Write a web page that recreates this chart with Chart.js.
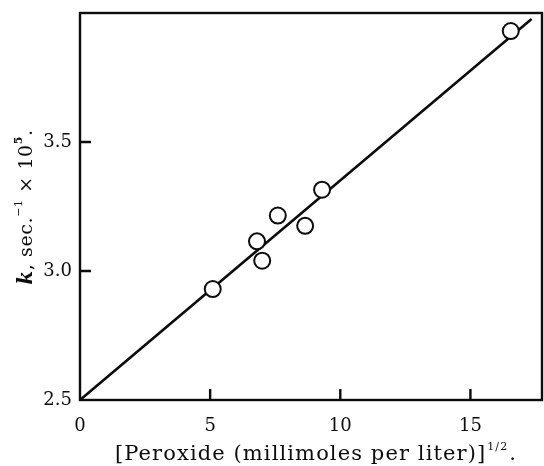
<!DOCTYPE html>
<html>
<head>
<meta charset="utf-8">
<script src="https://cdn.jsdelivr.net/npm/chart.js@4.4.1/dist/chart.umd.min.js"></script>
<style>
  html, body { margin: 0; padding: 0; background: #fff; }
  #wrap { width: 544px; height: 466px; position: relative; }
</style>
</head>
<body>
<div id="wrap"><canvas id="chart" width="544" height="466"></canvas></div>
<script>
const peroxideRoot = [5.1, 6.8, 7.0, 7.6, 8.65, 9.3, 16.55];
const rateK = [2.93, 3.115, 3.04, 3.215, 3.175, 3.315, 3.93];

// straight line drawn through the points
const fitX = [0, 17.35];
const fitY = [2.5, 3.977];

const xTicks = [0, 5, 10, 15];
const yTicks = [2.5, 3.0, 3.5];

const SERIF = "'DejaVu Serif', 'Liberation Serif', serif";
const INK = "#0c0c0c";

// frame, inward ticks and the two axis titles
const framePlugin = {
  id: "frame",
  afterDraw(chart) {
    const { ctx, chartArea: a, scales } = chart;
    ctx.save();
    ctx.strokeStyle = INK;
    ctx.lineWidth = 2.4;
    ctx.strokeRect(a.left, a.top, a.right - a.left, a.bottom - a.top);

    ctx.beginPath();
    xTicks.forEach((v) => {
      if (v === 0) return;
      const px = scales.x.getPixelForValue(v);
      ctx.moveTo(px, a.bottom);
      ctx.lineTo(px, a.bottom - 11);
    });
    yTicks.forEach((v) => {
      if (v === 2.5) return;
      const py = scales.y.getPixelForValue(v);
      ctx.moveTo(a.left, py);
      ctx.lineTo(a.left + 11, py);
    });
    ctx.stroke();

    ctx.fillStyle = INK;
    ctx.textBaseline = "alphabetic";

    // x title: [Peroxide (millimoles per liter)]^1/2.
    const big = "21px " + SERIF;
    const small = "11px " + SERIF;
    const main = "[Peroxide (millimoles per liter)]";
    ctx.letterSpacing = "1.1px";
    ctx.font = big;
    const wMain = ctx.measureText(main).width;
    ctx.font = small;
    const wSup = ctx.measureText("1/2").width;
    ctx.font = big;
    const wDot = ctx.measureText(".").width;
    let x = 316 - (wMain + wSup + wDot + 2) / 2;
    const y = 460;
    ctx.fillText(main, x, y);
    x += wMain + 1;
    ctx.font = small;
    ctx.fillText("1/2", x, y - 10);
    x += wSup + 1;
    ctx.font = big;
    ctx.fillText(".", x, y);

    // y title: k, sec.^-1 × 10^5.  (rotated)
    ctx.translate(32, 207);
    ctx.rotate(-Math.PI / 2);
    const parts = [
      { t: "k", f: "bold italic 20px " + SERIF, dy: 0 },
      { t: ", sec.", f: "19px " + SERIF, dy: 0 },
      { t: "\u22121", f: "11px " + SERIF, dy: -10 },
      { t: " \u00d7 10", f: "19px " + SERIF, dy: 0 },
      { t: "5", f: "bold 11px " + SERIF, dy: -10 },
      { t: ".", f: "19px " + SERIF, dy: 0 },
    ];
    ctx.letterSpacing = "0.6px";
    let total = 0;
    parts.forEach((p) => { ctx.font = p.f; total += ctx.measureText(p.t).width; });
    let cx = -total / 2;
    parts.forEach((p) => {
      ctx.font = p.f;
      ctx.fillText(p.t, cx, p.dy);
      cx += ctx.measureText(p.t).width;
    });
    // restore() does not reset this one, so do it by hand
    ctx.letterSpacing = "0px";
    ctx.restore();
  },
};

new Chart(document.getElementById("chart"), {
  type: "scatter",
  data: {
    datasets: [
      {
        type: "line",
        data: fitX.map((v, i) => ({ x: v, y: fitY[i] })),
        borderColor: INK,
        borderWidth: 2.6,
        pointRadius: 0,
        fill: false,
        order: 2,
      },
      {
        data: peroxideRoot.map((v, i) => ({ x: v, y: rateK[i] })),
        pointRadius: 8,
        pointBackgroundColor: "#fff",
        pointBorderColor: INK,
        pointBorderWidth: 2,
        order: 1,
      },
    ],
  },
  options: {
    responsive: false,
    animation: false,
    layout: { autoPadding: false, padding: { top: 13, right: 2, left: 0, bottom: 0 } },
    plugins: { legend: { display: false }, tooltip: { enabled: false } },
    scales: {
      x: {
        type: "linear",
        min: 0,
        max: 17.75,
        afterBuildTicks: (s) => { s.ticks = xTicks.map((v) => ({ value: v })); },
        afterFit: (s) => { s.height = 66; s.paddingLeft = 0; s.paddingRight = 0; },
        grid: { display: false, drawTicks: false },
        border: { display: false },
        ticks: { color: INK, padding: 16, font: { family: SERIF, size: 18 }, callback: (v) => String(v) },
      },
      y: {
        type: "linear",
        min: 2.5,
        max: 4.0,
        afterBuildTicks: (s) => { s.ticks = yTicks.map((v) => ({ value: v })); },
        afterFit: (s) => { s.width = 80; s.paddingTop = 0; s.paddingBottom = 0; },
        grid: { display: false, drawTicks: false },
        border: { display: false },
        ticks: { color: INK, padding: 8, font: { family: SERIF, size: 18 }, callback: (v) => v.toFixed(1) },
      },
    },
  },
  plugins: [framePlugin],
});
</script>
</body>
</html>
